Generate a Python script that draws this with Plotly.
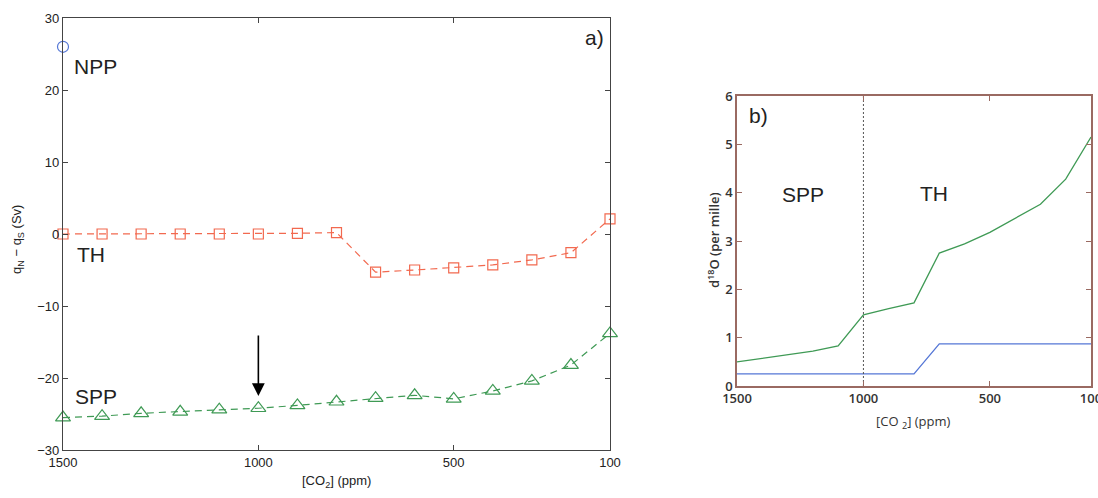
import plotly.graph_objects as go

# ---------------- data ----------------
co2_a = [1500, 1400, 1300, 1200, 1100, 1000, 900, 800, 700, 600, 500, 400, 300, 200, 100]
th_a = [0.0, 0.0, 0.0, 0.0, 0.0, 0.0, 0.1, 0.2, -5.3, -5.0, -4.7, -4.3, -3.6, -2.6, 2.1]
spp_a = [-25.5, -25.3, -24.9, -24.7, -24.4, -24.2, -23.8, -23.3, -22.8, -22.4, -22.9, -21.8, -20.4, -18.2, -13.8]
npp_x = [1500]
npp_y = [26.0]
arrow_x = 1000
arrow_from = -13.9
arrow_to = -22.5

co2_b = [1500, 1400, 1300, 1200, 1100, 1000, 900, 800, 700, 600, 500, 400, 300, 200, 100]
d18o_green = [0.50, 0.57, 0.64, 0.72, 0.83, 1.47, 1.60, 1.72, 2.75, 2.94, 3.18, 3.47, 3.76, 4.28, 5.15]
d18o_blue = [0.25, 0.25, 0.25, 0.25, 0.25, 0.25, 0.25, 0.25, 0.87, 0.87, 0.87, 0.87, 0.87, 0.87, 0.87]
divider_x = 1000

xticks = [1500, 1000, 500, 100]
yticks_a = [-30, -20, -10, 0, 10, 20, 30]
yticks_b = [0, 1, 2, 3, 4, 5, 6]

# ---------------- figure ----------------
W, H = 1098, 498
def px(x):
    return x / W
def py(y):
    return 1 - y / H

RED = '#f2694f'
GREEN = '#3f9a55'
BLUE = '#5577d6'
FONT = 'Liberation Sans, Arial, sans-serif'

fig = go.Figure()

fig.add_trace(go.Scatter(x=co2_a, y=th_a, mode='lines+markers', xaxis='x', yaxis='y',
                         line=dict(color=RED, width=1.2, dash='7px,5px'),
                         marker=dict(symbol='square-open', size=10, color=RED, line=dict(width=1.2)),
                         cliponaxis=False, showlegend=False))
fig.add_trace(go.Scatter(x=co2_a, y=spp_a, mode='lines+markers', xaxis='x', yaxis='y',
                         line=dict(color=GREEN, width=1.2, dash='7px,5px'),
                         marker=dict(symbol='triangle-up-open', size=13, color=GREEN, line=dict(width=1.2)),
                         cliponaxis=False, showlegend=False))
fig.add_trace(go.Scatter(x=npp_x, y=npp_y, mode='markers', xaxis='x', yaxis='y',
                         marker=dict(symbol='circle-open', size=11, color=BLUE, line=dict(width=1.2)),
                         cliponaxis=False, showlegend=False))

fig.add_trace(go.Scatter(x=co2_b, y=d18o_green, mode='lines', xaxis='x2', yaxis='y2',
                         line=dict(color=GREEN, width=1.3), showlegend=False))
fig.add_trace(go.Scatter(x=co2_b, y=d18o_blue, mode='lines', xaxis='x2', yaxis='y2',
                         line=dict(color=BLUE, width=1.3), showlegend=False))
fig.add_trace(go.Scatter(x=[divider_x, divider_x], y=[yticks_b[0], yticks_b[-1]], mode='lines',
                         xaxis='x2', yaxis='y2',
                         line=dict(color='#555555', width=1, dash='2px,2px'), showlegend=False))

axis_a = dict(showgrid=False, zeroline=False, showline=True, linecolor='#444444', linewidth=1.3,
              mirror='ticks', ticks='inside', ticklen=5, tickcolor='#444444', automargin=False,
              ticklabeloverflow='allow',
              tickfont=dict(family=FONT, size=13, color='#222222'))
axis_b = dict(showgrid=False, zeroline=False, showline=True, linecolor='#9a6a62', linewidth=1.5,
              mirror='ticks', ticks='inside', ticklen=5, tickcolor='#9a6a62', automargin=False,
              ticklabeloverflow='allow',
              tickfont=dict(family='Open Sans, sans-serif', size=13, color='#333333', weight=600))

fig.update_layout(
    width=W, height=H, margin=dict(l=0, r=0, t=0, b=0, autoexpand=False),
    paper_bgcolor='white', plot_bgcolor='white',
    xaxis=dict(axis_a, domain=[px(63), px(610)], range=[1500, 100], tickvals=xticks, anchor='y'),
    yaxis=dict(axis_a, domain=[py(450), py(18)], range=[-30, 30], tickvals=yticks_a, anchor='x'),
    xaxis2=dict(axis_b, domain=[px(737), px(1091)], range=[1500, 100], tickvals=xticks, anchor='y2'),
    yaxis2=dict(axis_b, domain=[py(386), py(96)], range=[0, 6], tickvals=yticks_b, anchor='x2'),
)

big = dict(family=FONT, size=21, color='#222222')
ann = [
    dict(x=1478, y=23.3, xref='x', yref='y', text='NPP', xanchor='left', yanchor='middle', font=big),
    dict(x=1469, y=-2.9, xref='x', yref='y', text='TH', xanchor='left', yanchor='middle', font=big),
    dict(x=1474, y=-22.6, xref='x', yref='y', text='SPP', xanchor='left', yanchor='middle', font=big),
    dict(x=px(606), y=py(37), xref='paper', yref='paper', text='a)', xanchor='right', yanchor='middle', font=big),
    dict(x=px(336), y=py(481), xref='paper', yref='paper', text='[CO<sub>2</sub>] (ppm)',
         xanchor='center', yanchor='middle', font=dict(family=FONT, size=13, color='#222222')),
    dict(x=px(17), y=py(240), xref='paper', yref='paper', text='q<sub>N</sub> − q<sub>S</sub> (Sv)',
         textangle=-90, xanchor='center', yanchor='middle', font=dict(family=FONT, size=13, color='#222222')),
    dict(x=1460, y=5.6, xref='x2', yref='y2', text='b)', xanchor='left', yanchor='middle', font=big),
    dict(x=1329, y=3.97, xref='x2', yref='y2', text='SPP', xanchor='left', yanchor='middle', font=big),
    dict(x=786, y=3.99, xref='x2', yref='y2', text='TH', xanchor='left', yanchor='middle', font=big),
    dict(x=px(913), y=py(422), xref='paper', yref='paper', text='[CO <sub>2</sub>] (ppm)',
         xanchor='center', yanchor='middle', font=dict(family='Open Sans, sans-serif', size=13, color='#333333')),
    dict(x=px(713), y=py(240), xref='paper', yref='paper', text='d<sup>18</sup>O (per mille)',
         textangle=-90, xanchor='center', yanchor='middle',
         font=dict(family='Open Sans, sans-serif', size=13, color='#333333', weight=600)),
]
for a in ann:
    a['showarrow'] = False
ann.append(dict(x=arrow_x, y=arrow_to, ax=arrow_x, ay=arrow_from, xref='x', yref='y', axref='x', ayref='y',
                text='', showarrow=True, arrowhead=2, arrowsize=1.6, arrowwidth=1.6,
                arrowcolor='black', standoff=0))
fig.update_layout(annotations=ann)

fig.write_html('out.html')
